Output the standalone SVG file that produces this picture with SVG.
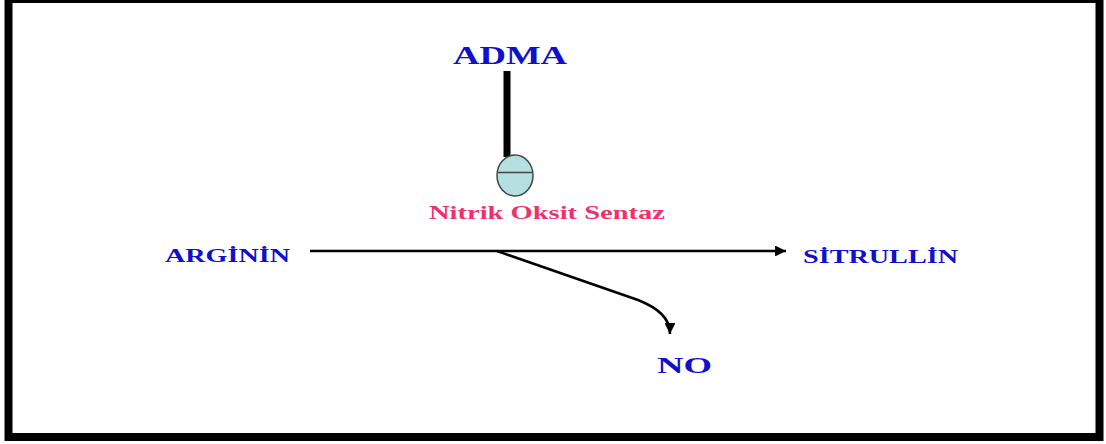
<svg xmlns="http://www.w3.org/2000/svg" width="1106" height="444" viewBox="0 0 1106 444">
<style>
.lbl{font-family:"Liberation Serif","Times New Roman",serif;font-weight:bold;}
.blue{fill:#1010cc;}
.pink{fill:#f0306a;}
.conn{fill:none;stroke:#000;stroke-width:2.6;}
</style>
<defs>
<marker id="ah" viewBox="0 0 10 10" refX="10" refY="5" markerWidth="5" markerHeight="4.2" orient="auto" markerUnits="strokeWidth">
<path d="M0,0 L10,5 L0,10 Z" fill="#000"/>
</marker>
</defs>
<rect x="0" y="0" width="1106" height="444" fill="#fff"/>
<rect x="8.5" y="-1" width="1091" height="438" fill="none" stroke="#000" stroke-width="8"/>
<g id="connectors">
<line x1="507" y1="71" x2="507" y2="157" stroke="#000" stroke-width="7"/>
<line class="conn" x1="310" y1="251" x2="786" y2="251" marker-end="url(#ah)"/>
<path class="conn" d="M497,251 L638,300 C658,308 670,318 670,334" marker-end="url(#ah)"/>
</g>
<g id="adma"><text class="lbl blue" x="453" y="64" font-size="25" textLength="114" lengthAdjust="spacingAndGlyphs">ADMA</text></g>
<g id="nos">
<ellipse cx="515" cy="175.5" rx="18" ry="20.5" fill="#b5dfe0" stroke="#404848" stroke-width="1.5"/>
<line x1="497.3" y1="172.5" x2="532.7" y2="172.5" stroke="#404848" stroke-width="1.5"/>
<text class="lbl pink" x="429" y="219" font-size="18" textLength="236" lengthAdjust="spacingAndGlyphs">Nitrik Oksit Sentaz</text>
</g>
<g id="arginin"><text class="lbl blue" x="165" y="262" font-size="19" textLength="125" lengthAdjust="spacingAndGlyphs">ARGİNİN</text></g>
<g id="sitrullin"><text class="lbl blue" x="803" y="263" font-size="19" textLength="155" lengthAdjust="spacingAndGlyphs">SİTRULLİN</text></g>
<g id="no"><text class="lbl blue" x="657" y="373" font-size="23" textLength="55" lengthAdjust="spacingAndGlyphs">NO</text></g>
</svg>
